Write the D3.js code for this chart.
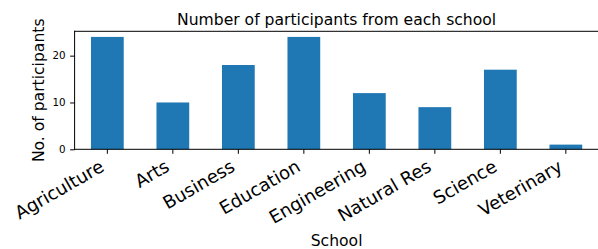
<!DOCTYPE html>
<html>
<head>
<meta charset="utf-8">
<script src="https://cdn.jsdelivr.net/npm/d3@7"></script>
<style>
  body { margin: 0; background: #fff; }
  text { font-family: "DejaVu Sans", sans-serif; fill: #000; }
</style>
</head>
<body>
<div id="content"></div>
<script>
var schools = ["Agriculture", "Arts", "Business", "Education", "Engineering", "Natural Res", "Science", "Veterinary"];
var participants = [24, 10, 18, 24, 12, 9, 17, 1];
var yTicks = [0, 10, 20];

var W = 598, H = 249;
var plotLeft = 74.6, plotRight = 598.6, plotTop = 31.3, plotBottom = 149.3;
var tickLen = 4.5, tickPad = 4.5;
var xFont = 18;

var svg = d3.select("#content").append("svg")
	.attr("width", W).attr("height", H);

var x = d3.scaleBand().domain(schools).range([plotLeft, plotRight])
	.paddingInner(0.5).paddingOuter(0.25);
var y = d3.scaleLinear().domain([0, 25.2]).range([plotBottom, plotTop]);

var data = schools.map(function (s, i) { return {school: s, value: participants[i]}; });

// bars
svg.selectAll("rect.bar")
	.data(data)
	.enter()
	.append("rect")
	.attr("class", "bar")
	.attr("x", function (d) { return x(d.school); })
	.attr("width", x.bandwidth())
	.attr("y", function (d) { return y(d.value); })
	.attr("height", function (d) { return y(0) - y(d.value); })
	.style("fill", "#1f77b4");

// y axis
var yAxis = d3.axisLeft(y).tickValues(yTicks).tickSize(tickLen).tickPadding(tickPad);
var gy = svg.append("g").attr("transform", "translate(" + plotLeft + ",0)").call(yAxis);
gy.select(".domain").remove();
gy.selectAll("line").attr("stroke", "#000").attr("stroke-width", 1);
gy.selectAll("text").style("font-size", "10.3px").style("font-family", "DejaVu Sans");

// x axis, labels rotated 30 deg and right aligned like matplotlib
var xAxis = d3.axisBottom(x).tickSize(tickLen).tickPadding(tickPad);
var gx = svg.append("g").attr("transform", "translate(0," + plotBottom + ")").call(xAxis);
gx.select(".domain").remove();
gx.selectAll("line").attr("stroke", "#000").attr("stroke-width", 1);
var labelTop = tickLen + tickPad;
gx.selectAll("text")
	.style("font-size", xFont + "px")
	.style("font-family", "DejaVu Sans")
	.attr("text-anchor", "end")
	.attr("y", 0).attr("dy", 0)
	.attr("transform", "translate(" + (-0.118 * xFont) + "," + (labelTop + 0.658 * xFont) + ") rotate(-30)");

// spines
var spines = [
	[plotLeft, plotTop, plotLeft, plotBottom],
	[plotLeft, plotBottom, plotRight, plotBottom],
	[plotLeft, plotTop, plotRight, plotTop],
	[plotRight, plotTop, plotRight, plotBottom]
];
svg.selectAll("line.spine")
	.data(spines)
	.enter()
	.append("line")
	.attr("class", "spine")
	.attr("x1", function (d) { return d[0]; })
	.attr("y1", function (d) { return d[1]; })
	.attr("x2", function (d) { return d[2]; })
	.attr("y2", function (d) { return d[3]; })
	.attr("stroke", "#000")
	.attr("stroke-width", 1)
	.attr("stroke-linecap", "square");

// title and labels
svg.append("text")
	.attr("x", (plotLeft + plotRight) / 2).attr("y", 25)
	.attr("text-anchor", "middle")
	.style("font-size", "15.6px")
	.text("Number of participants from each school");

svg.append("text")
	.attr("x", (plotLeft + plotRight) / 2).attr("y", 246)
	.attr("text-anchor", "middle")
	.style("font-size", "15.6px")
	.text("School");

svg.append("text")
	.attr("transform", "translate(44," + ((plotTop + plotBottom) / 2) + ") rotate(-90)")
	.attr("text-anchor", "middle")
	.style("font-size", "15.6px")
	.text("No. of participants");
</script>
</body>
</html>
